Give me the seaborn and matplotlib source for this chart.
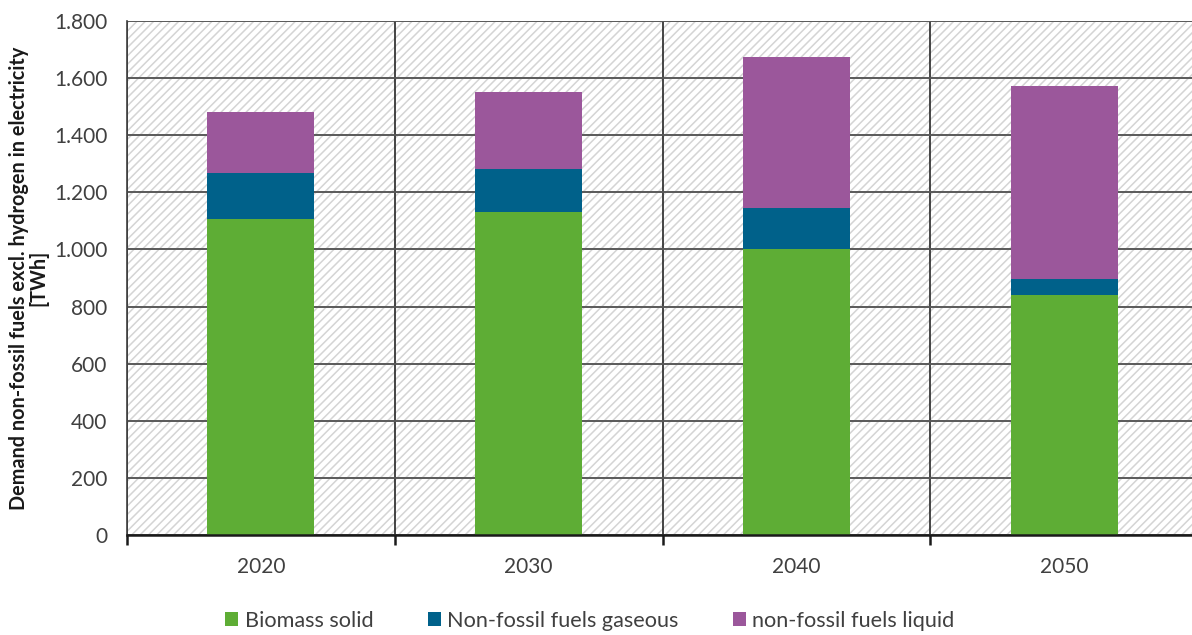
import matplotlib
matplotlib.use("Agg")
import matplotlib.pyplot as plt
from matplotlib.patches import Rectangle
from matplotlib.ticker import FixedLocator, FuncFormatter
import numpy as np
import pandas as pd
import seaborn as sns

# Demand of non-fossil fuels (TWh) per scenario year
years = ["2020", "2030", "2040", "2050"]
biomass_solid = [1105, 1130, 1000, 841]
fuels_gaseous = [161, 150, 146, 55]
fuels_liquid = [216, 272, 529, 675]

series_names = ["Biomass solid", "Non-fossil fuels gaseous", "non-fossil fuels liquid"]
series_colors = ["#5EAD35", "#00618A", "#9B579B"]
y_ticks = [0, 200, 400, 600, 800, 1000, 1200, 1400, 1600, 1800]

sns.set_theme(style="white")
plt.rcParams["font.family"] = ["Lato", "DejaVu Sans"]
plt.rcParams["hatch.linewidth"] = 1.1

df = pd.DataFrame({
    "year": years,
    "biomass": biomass_solid,
    "gaseous": fuels_gaseous,
    "liquid": fuels_liquid,
})
df["base_gas"] = df["biomass"]
df["base_liq"] = df["biomass"] + df["gaseous"]

fig = plt.figure(figsize=(11.92, 6.35), dpi=100)
ax = fig.add_axes([127 / 1192, 1 - 535 / 635, (1198 - 127) / 1192, (535 - 21) / 635])

# hatched plot background
ax.add_patch(Rectangle((0, 0), 1, 1, transform=ax.transAxes, facecolor="white",
                       edgecolor="#d4d4d4", hatch="////", linewidth=0, zorder=0))

bar_w = 0.4
common = dict(width=bar_w, ax=ax, zorder=3, linewidth=0, saturation=1)
sns.barplot(data=df, x="year", y="biomass", color=series_colors[0],
            label=series_names[0], **common)
sns.barplot(data=df, x="year", y="gaseous", bottom=df["base_gas"], color=series_colors[1],
            label=series_names[1], **common)
sns.barplot(data=df, x="year", y="liquid", bottom=df["base_liq"], color=series_colors[2],
            label=series_names[2], **common)

ax.set_xlim(-0.5, 3.5)
ax.set_ylim(0, 1800)

# y axis
ax.yaxis.set_major_locator(FixedLocator(y_ticks))
ax.yaxis.set_major_formatter(FuncFormatter(lambda v, p: f"{int(v):,}".replace(",", ".")))
ax.tick_params(axis="y", length=0, pad=14, labelsize=15, labelcolor="#404040")
ax.grid(axis="y", color="#595959", linewidth=1.4, zorder=1)

# x axis: ticks/gridlines on category boundaries, labels centered on bars
bounds = np.arange(len(years) + 1) - 0.5
ax.xaxis.set_major_locator(FixedLocator(bounds))
ax.xaxis.set_minor_locator(FixedLocator(np.arange(len(years))))
ax.set_xticklabels([""] * len(bounds))
ax.set_xticklabels(years, minor=True)
ax.tick_params(axis="x", which="major", direction="out", length=7, width=1.8, color="#1a1a1a",
               bottom=True)
ax.tick_params(axis="x", which="minor", length=0, pad=16, labelsize=15, labelcolor="#404040")
ax.grid(axis="x", which="major", color="#262626", linewidth=1.2, zorder=1)
ax.set_axisbelow(True)

for s in ["top", "right"]:
    ax.spines[s].set_visible(False)
ax.spines["left"].set_color("#404040")
ax.spines["left"].set_linewidth(1.2)
ax.spines["bottom"].set_color("#1a1a1a")
ax.spines["bottom"].set_linewidth(1.8)
ax.spines["bottom"].set_zorder(4)

ax.set_xlabel("")
ax.set_ylabel("Demand non-fossil fuels excl. hydrogen in electricity\n[TWh]",
              fontsize=14.3, fontweight="bold", color="#1a1a1a", labelpad=4,
              multialignment="center", linespacing=1.0)

handles, labels = ax.get_legend_handles_labels()
if ax.get_legend() is not None:
    ax.get_legend().remove()
fig.legend(handles, labels, loc="center", bbox_to_anchor=(590 / 1192, 1 - 621 / 635),
           ncol=3, frameon=False, fontsize=15.6, handlelength=0.6, handleheight=0.6,
           handletextpad=0.3, columnspacing=2.5, labelcolor="#404040")

fig.savefig("out.png", dpi=100)
